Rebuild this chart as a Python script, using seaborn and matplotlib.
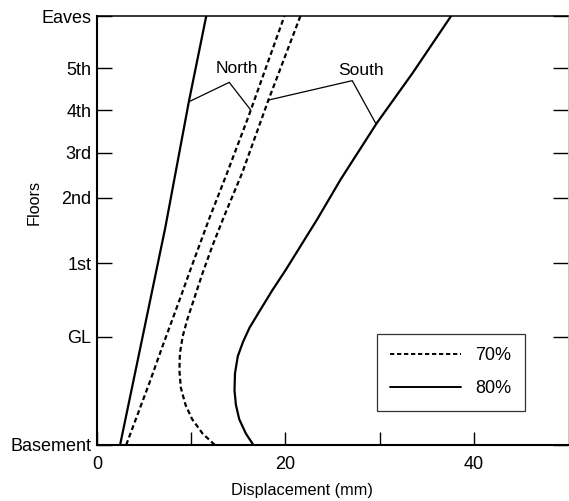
import numpy as np
import pandas as pd
import matplotlib
matplotlib.use("Agg")
import matplotlib.pyplot as plt
from matplotlib.lines import Line2D
import seaborn as sns

# floor levels (height in m)
floor_labels = ["Basement", "GL", "1st", "2nd", "3rd", "4th", "5th", "Eaves"]
floor_heights = [0, 3.78, 6.36, 8.64, 10.21, 11.71, 13.18, 15.0]

# North side
north_80_h = [0, 3.4, 7.6, 12.0, 15.0]
north_80_d = [2.45, 4.6, 7.25, 9.75, 11.6]
north_70_h = [0, 2.2, 3.4, 5.1, 6.2, 7.9, 9.5, 11.5, 15.0]
north_70_d = [3.1, 5.6, 6.9, 8.8, 10.0, 11.9, 13.8, 16.1, 19.9]

# South side
south_80_h = [0, 0.4, 0.9, 1.4, 1.9, 2.5, 3.1, 3.6, 4.1, 4.7, 5.4, 6.1, 7.0, 7.9, 9.3, 11.25, 13.0, 15.0]
south_80_d = [16.6, 15.8, 15.1, 14.75, 14.6, 14.65, 14.95, 15.5, 16.2, 17.3, 18.6, 20.0, 21.7, 23.4, 25.9, 29.7, 33.5, 37.6]
south_70_h = [0, 0.4, 0.9, 1.4, 2.0, 2.6, 3.2, 3.8, 4.4, 5.0, 6.0, 7.0, 8.0, 9.5, 12.06, 15.0]
south_70_d = [12.5, 11.2, 10.1, 9.4, 8.9, 8.75, 8.8, 9.1, 9.6, 10.2, 11.2, 12.3, 13.5, 15.4, 18.2, 21.6]

levels = ["70%", "80%"]

frames = []
for side, level, h, d in [("North", "80%", north_80_h, north_80_d),
                          ("North", "70%", north_70_h, north_70_d),
                          ("South", "80%", south_80_h, south_80_d),
                          ("South", "70%", south_70_h, south_70_d)]:
    frames.append(pd.DataFrame({"disp": d, "height": h, "side": side, "level": level}))
df = pd.concat(frames, ignore_index=True)
df["series"] = df["side"] + " " + df["level"]

sns.set_style("ticks")
plt.rcParams["font.family"] = ["Liberation Sans", "DejaVu Sans"]
plt.rcParams["text.color"] = "black"
plt.rcParams["axes.labelcolor"] = "black"
plt.rcParams["xtick.color"] = "black"
plt.rcParams["ytick.color"] = "black"

fig = plt.figure(figsize=(5.69, 5.01), dpi=100)
ax = fig.add_axes([0.1705, 0.112, 0.8275, 0.856])

dash_map = {"70%": (2.2, 1.4), "80%": ""}
sns.lineplot(data=df, x="disp", y="height", units="series", style="level",
             estimator=None, sort=False, color="black", linewidth=1.6,
             dashes=dash_map, legend=False, ax=ax)

# pointer lines for the side labels
def foot(h, hs, ds):
    return np.interp(h, hs, ds), h

for name, apex, left, right in [
        ("North", (14.04, 12.68), foot(12.0, north_80_h, north_80_d), foot(11.71, north_70_h, north_70_d)),
        ("South", (27.1, 12.74), foot(12.06, south_70_h, south_70_d), foot(11.22, south_80_h, south_80_d))]:
    ax.plot([left[0], apex[0], right[0]], [left[1], apex[1], right[1]], color="black", lw=0.9)

ax.text(14.84, 13.16, "North", ha="center", va="center", fontsize=12.5)
ax.text(27.98, 13.11, "South", ha="center", va="center", fontsize=12.5)

ax.set_xlim(0, 50)
ax.set_ylim(0, 15)
ax.set_xticks([0, 20, 40])
ax.set_xticks([10, 30], minor=True)
ax.set_yticks(floor_heights)
ax.set_yticklabels(floor_labels)
ax.tick_params(axis="x", which="both", direction="in", length=9.4, width=1.0,
               labelsize=13, pad=8, colors="black")
ax.tick_params(axis="y", direction="in", length=10.8, width=1.0, labelsize=13,
               pad=4, right=True, labelright=False, colors="black")

ax.set_xlabel("Displacement (mm)", fontsize=11.7)
ax.set_ylabel("Floors", fontsize=11.7)
ax.xaxis.set_label_coords(0.435, -0.09)
ax.yaxis.set_label_coords(-0.117, 0.566)

for s in ["left", "bottom"]:
    ax.spines[s].set_linewidth(1.5)
    ax.spines[s].set_color("black")
ax.spines["top"].set_linewidth(1.1)
ax.spines["top"].set_color("black")
ax.spines["right"].set_linewidth(0.6)
ax.spines["right"].set_color("#bbbbbb")

handles = [Line2D([], [], color="black", lw=1.4, dashes=(2.2, 1.4)),
           Line2D([], [], color="black", lw=1.4)]
leg = ax.legend(handles, levels, loc="lower left", bbox_to_anchor=(0.594, 0.079),
                borderaxespad=0, fontsize=13, frameon=True, fancybox=False,
                edgecolor="black", handlelength=3.9, handletextpad=0.8,
                labelspacing=0.9, borderpad=0.75)
leg.get_frame().set_linewidth(0.9)

fig.savefig("out.png", dpi=100)
